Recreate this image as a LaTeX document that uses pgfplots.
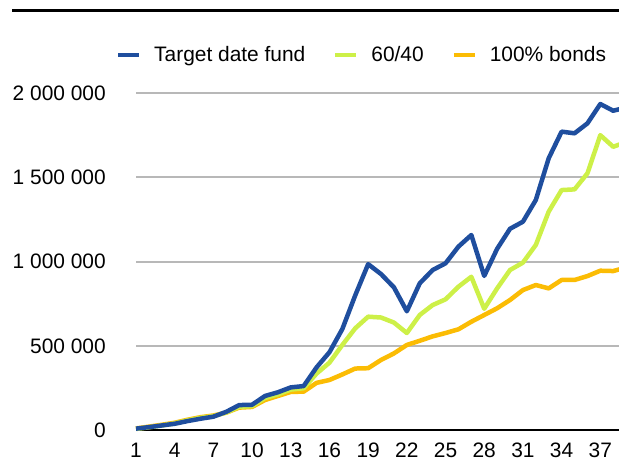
\documentclass[border=0pt]{standalone}
\usepackage{pgfplots}
\pgfplotsset{compat=1.18}
\usepackage{fontspec}
\setmainfont{Liberation Sans}
\definecolor{tdf}{RGB}{31,78,158}
\definecolor{sixty}{RGB}{205,240,72}
\definecolor{bonds}{RGB}{251,188,4}
\pgfplotstableread{
x blue green orange
1 8000 6000 9000
2 17000 16000 20000
3 27000 27000 31000
4 37000 39000 43000
5 53000 57000 61000
6 67000 72000 76000
7 79000 82000 86000
8 108000 104000 103000
9 148000 138000 133000
10 150000 142000 137000
11 202000 190000 178000
12 224000 212000 202000
13 253000 240000 226000
14 261000 248000 228000
15 372000 335000 280000
16 462000 400000 297000
17 600000 505000 330000
18 800000 604000 365000
19 985000 673000 367000
20 926000 668000 416000
21 847000 638000 455000
22 705000 576000 505000
23 871000 683000 530000
24 950000 742000 556000
25 990000 776000 576000
26 1089000 851000 598000
27 1158000 910000 643000
28 915000 720000 683000
29 1076000 841000 723000
30 1195000 950000 772000
31 1237000 994000 831000
32 1366000 1099000 861000
33 1614000 1297000 841000
34 1772000 1425000 891000
35 1762000 1429000 891000
36 1821000 1524000 914000
37 1936000 1751000 946000
38 1896000 1682000 944000
39 1915000 1710000 965000
}\data
\begin{document}
\begin{tikzpicture}
\useasboundingbox (0bp,0bp) rectangle (619bp,463bp);
\draw[line width=3bp] (12bp,452bp) -- (619bp,452bp);
\begin{axis}[
  at={(136bp,33bp)}, anchor=south west,
  scale only axis, width=483bp, height=353.6bp,
  xmin=1, xmax=38.45, ymin=0, ymax=2100000,
  clip=false,
  scaled y ticks=false,
  axis line style={draw=none},
  major tick length=0pt,
  xtick={1,4,...,37},
  xticklabels={1,4,7,10,13,16,19,22,25,28,31,34,37},
  ytick={0,500000,1000000,1500000,2000000},
  yticklabels={0,500 000,1 000 000,1 500 000,2 000 000},
  /pgf/number format/assume math mode=true,
  ticklabel style={font=\fontsize{21}{25}\selectfont, inner sep=0pt},
  yticklabel style={xshift=-30bp},
  xticklabel style={yshift=-13bp},
  ymajorgrids,
  grid style={color=black!28, line width=2bp},
  extra y ticks={0},
  extra y tick labels={},
  extra y tick style={grid style={black, line width=2.5bp}},
  every axis plot/.append style={line width=4.5bp, line join=round, no markers},
  reverse legend,
  legend columns=3,
  legend image code/.code={\draw[#1, line width=4bp] (0bp,0bp) -- (21bp,0bp);},
  legend style={draw=none, fill=none, inner sep=0pt, at={(-0.0414,1.0605)}, anchor=west,
    font=\fontsize{21}{25}\selectfont,
    nodes={inner sep=0pt},
    /tikz/every odd column/.append style={column sep=13bp},
    /tikz/every even column/.append style={column sep=28bp}},
]
\addplot[color=bonds] table[x=x, y=orange] {\data};
\addlegendentry{100\% bonds}
\addplot[color=sixty] table[x=x, y=green] {\data};
\addlegendentry{60/40}
\addplot[color=tdf] table[x=x, y=blue] {\data};
\addlegendentry{Target date fund}
\end{axis}
\end{tikzpicture}
\end{document}
